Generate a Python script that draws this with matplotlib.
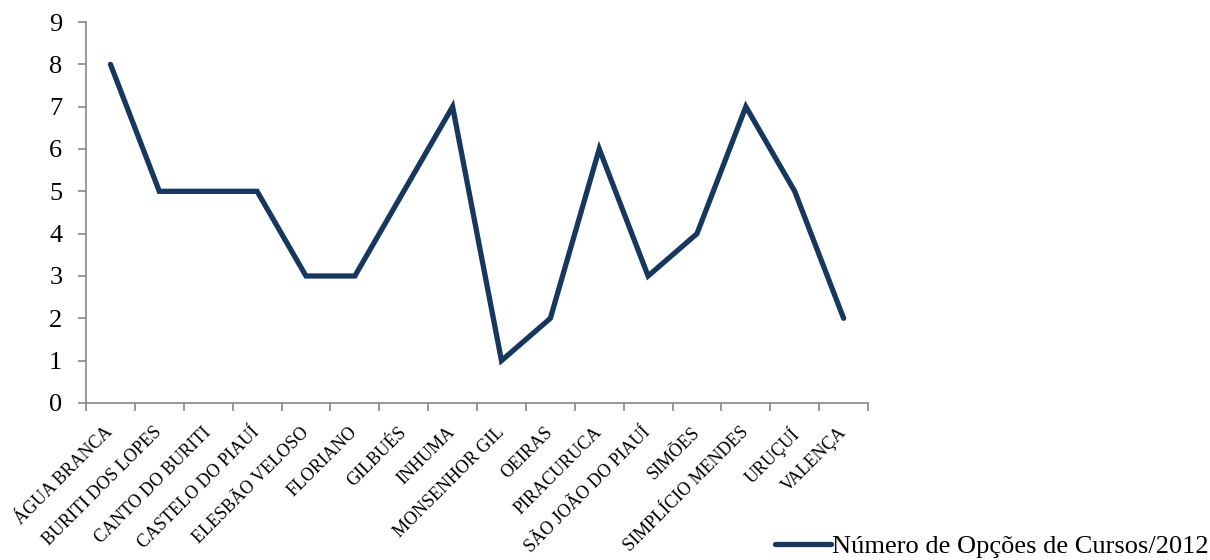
import numpy as np
import matplotlib.pyplot as plt
import matplotlib.transforms as mtransforms

plt.rcParams['font.family'] = ['Liberation Serif', 'DejaVu Serif']

cidades = ['ÁGUA BRANCA', 'BURITI DOS LOPES', 'CANTO DO BURITI', 'CASTELO DO PIAUÍ',
           'ELESBÃO VELOSO', 'FLORIANO', 'GILBUÉS', 'INHUMA', 'MONSENHOR GIL',
           'OEIRAS', 'PIRACURUCA', 'SÃO JOÃO DO PIAUÍ', 'SIMÕES', 'SIMPLÍCIO MENDES',
           'URUÇUÍ', 'VALENÇA']
opcoes = [8, 5, 5, 5, 3, 3, 5, 7, 1, 2, 6, 3, 4, 7, 5, 2]
yticks = [0, 1, 2, 3, 4, 5, 6, 7, 8, 9]

cor = '#17375E'
cinza = '#868686'

fig = plt.figure(figsize=(12.1, 5.6), dpi=100)
ax = fig.add_axes([0.0711, 0.2804, 0.6463, 0.6803])

x = np.arange(len(cidades))
ax.plot(x, opcoes, '-', color=cor, linewidth=3.8, solid_capstyle='round',
        solid_joinstyle='miter', label='Número de Opções de Cursos/2012')

ax.set_xlim(-0.5, len(cidades) - 0.5)
ax.set_ylim(0, 9)
ax.set_yticks(yticks)

# labels at category centres, tick marks on the boundaries
ax.set_xticks(x)
ax.set_xticklabels(cidades, rotation=45, ha='right', rotation_mode='anchor', fontsize=13)
ax.set_xticks(np.arange(-0.5, len(cidades)), minor=True)
ax.tick_params(axis='x', which='major', length=0, pad=15)
ax.tick_params(axis='x', which='minor', length=6, width=1.2, color=cinza, direction='out')
ax.tick_params(axis='y', length=6, width=1.2, color=cinza, labelsize=19, pad=11)

# nudge rotated labels a little to the left
desloc = mtransforms.ScaledTranslation(-6 / 100, 0, fig.dpi_scale_trans)
for lbl in ax.get_xticklabels():
    lbl.set_transform(lbl.get_transform() + desloc)

for s in ['top', 'right']:
    ax.spines[s].set_visible(False)
for s in ['left', 'bottom']:
    ax.spines[s].set_color(cinza)
    ax.spines[s].set_linewidth(1.2)

fig.legend(loc='lower right', bbox_to_anchor=(0.999, 0.004), frameon=False, fontsize=19,
           handlelength=2.1, handletextpad=0.05, borderpad=0, borderaxespad=0)

plt.savefig('out.png', dpi=100)
